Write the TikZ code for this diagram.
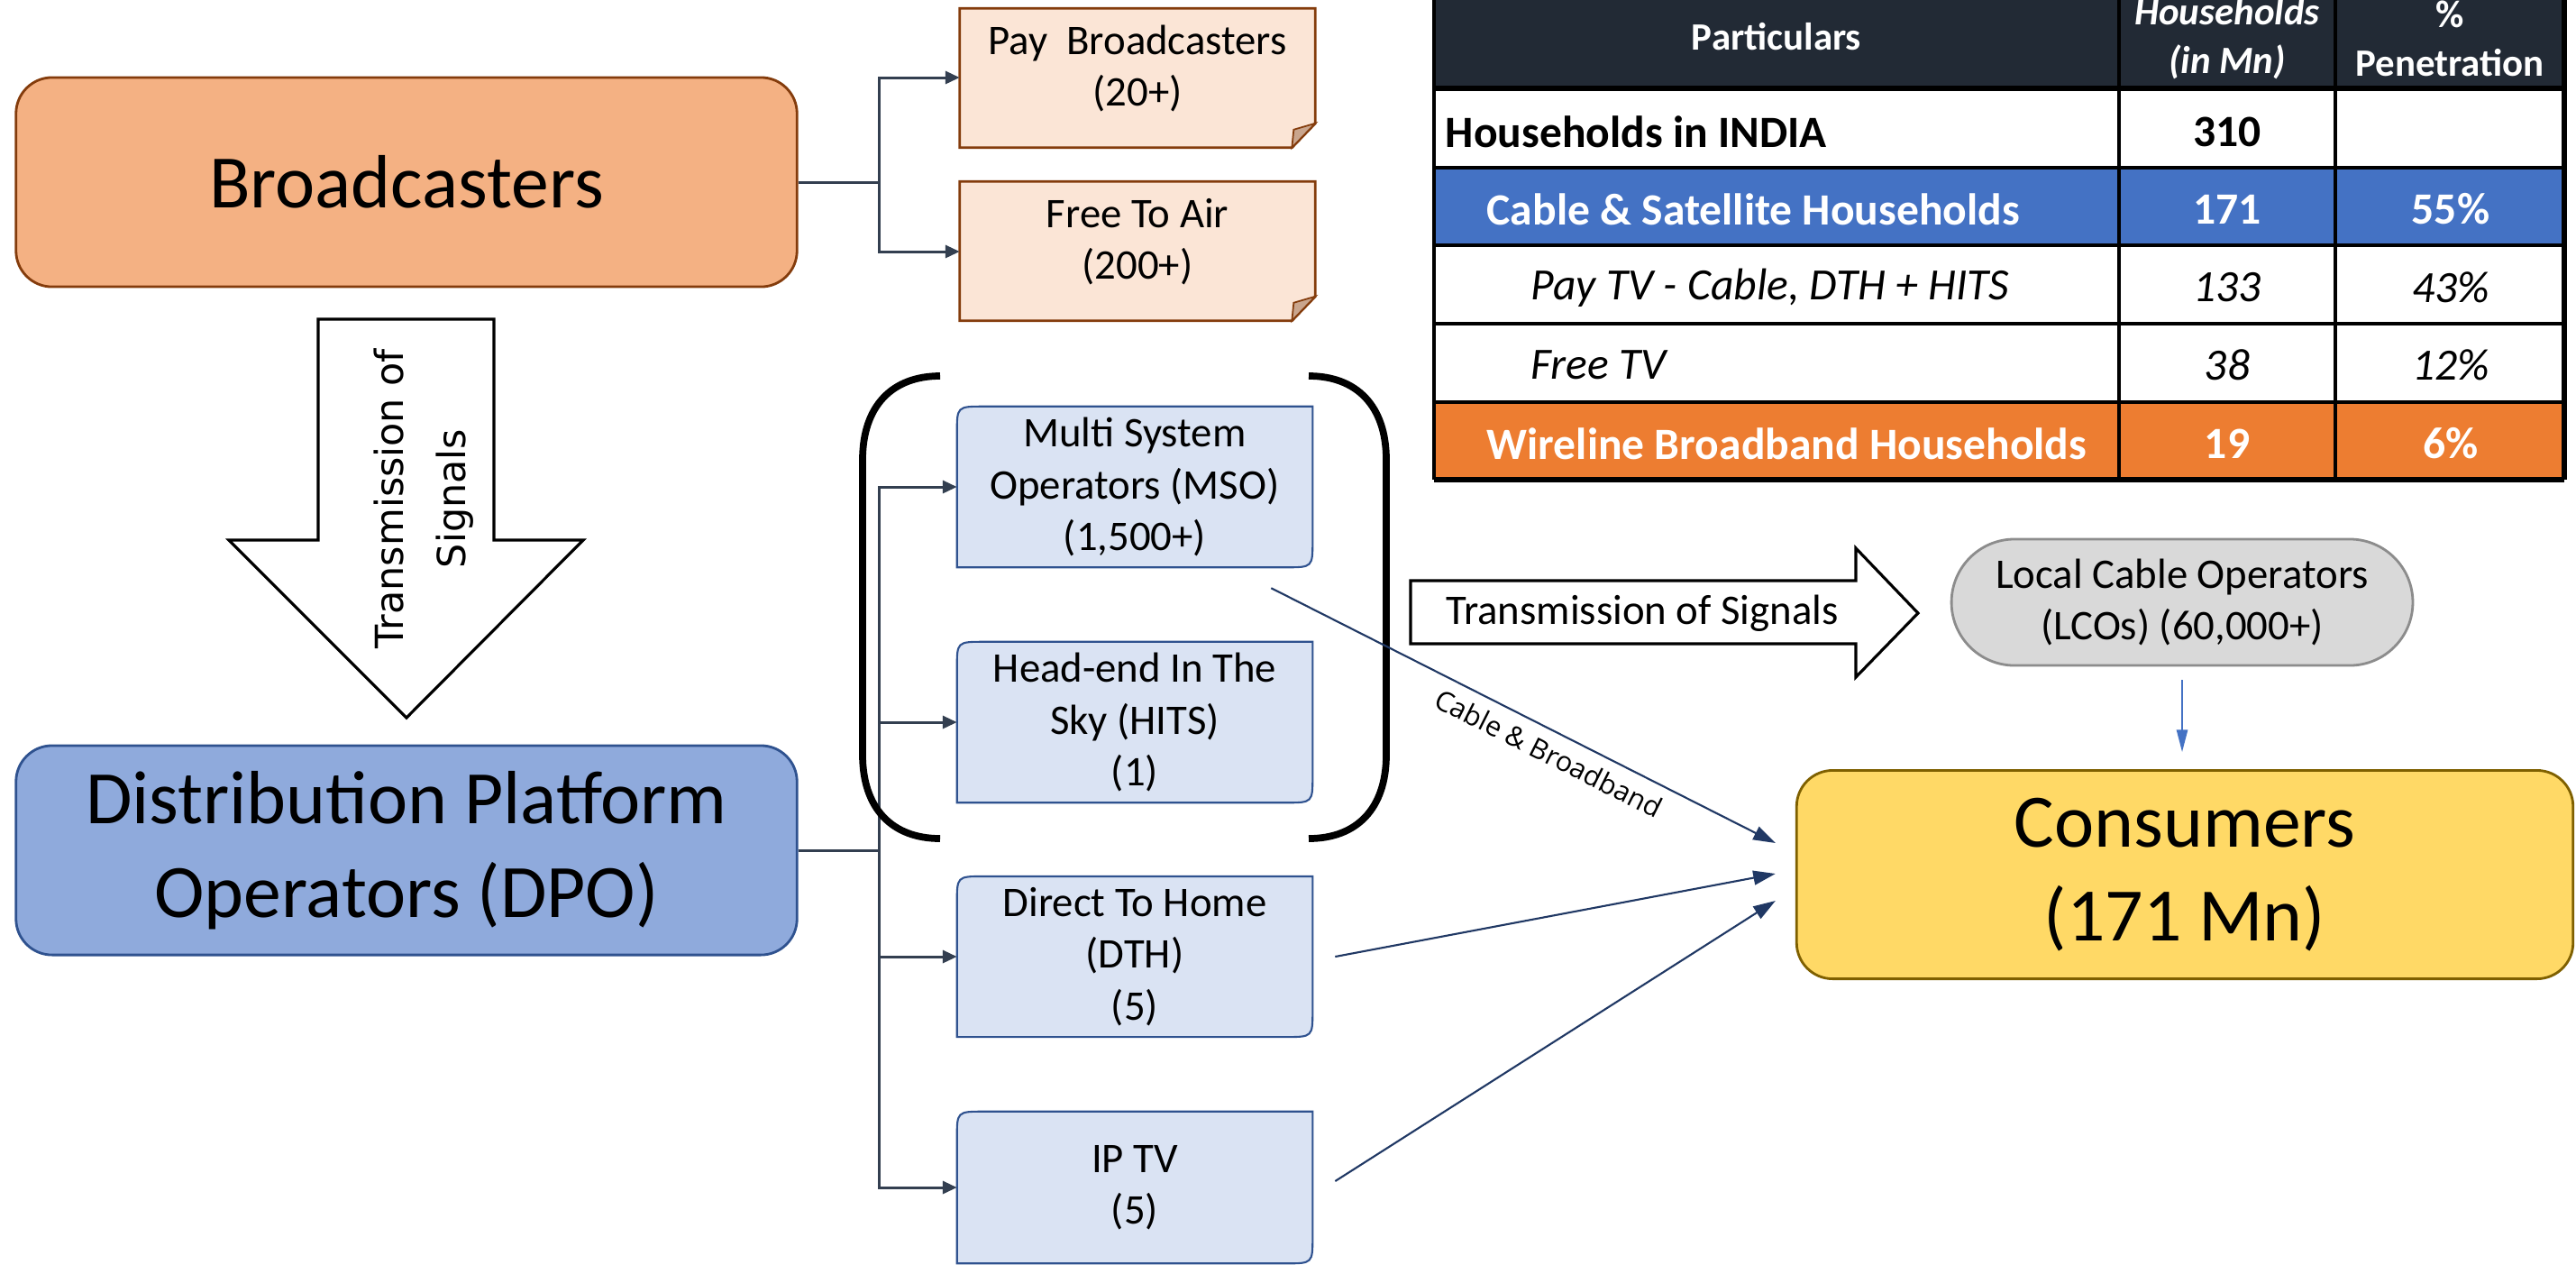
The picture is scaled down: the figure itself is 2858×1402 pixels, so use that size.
\documentclass[tikz,border=0pt]{standalone}
\usepackage{fontspec}
\setmainfont{Carlito}
\newfontfamily\vertfamily{DejaVu Sans}
\newfontfamily\slopefamily{Open Sans}
\usetikzlibrary{arrows.meta}
\usetikzlibrary{calc}
\usetikzlibrary{shapes.misc}
\usetikzlibrary{backgrounds}

\definecolor{bcfill}{HTML}{F4B183}
\definecolor{bcline}{HTML}{843C0C}
\definecolor{notefill}{HTML}{FBE5D6}
\definecolor{foldfill}{HTML}{C9A58D}
\definecolor{dpofill}{HTML}{8FAADC}
\definecolor{dpoline}{HTML}{2F528F}
\definecolor{opfill}{HTML}{DAE3F3}
\definecolor{lcofill}{HTML}{D9D9D9}
\definecolor{lcoline}{HTML}{8C8C8C}
\definecolor{consfill}{HTML}{FFD966}
\definecolor{consline}{HTML}{7F6000}
\definecolor{hdrfill}{HTML}{222A35}
\definecolor{csfill}{HTML}{4472C4}
\definecolor{bbfill}{HTML}{ED7D31}
\definecolor{linkcol}{HTML}{203864}
\definecolor{elbowcol}{HTML}{333F50}

\newcommand{\txtbig}{\fontsize{23.8}{29.5}\selectfont}
\newcommand{\txtbox}{\fontsize{13.3}{16.3}\selectfont}
\newcommand{\txtcell}{\fontsize{14.1}{17}\selectfont}
\newcommand{\txthdr}{\fontsize{12.2}{15.3}\selectfont\bfseries}
\newcommand{\txtvert}{\vertfamily\fontsize{12.2}{19.8}\selectfont}
\newcommand{\txtslope}{\slopefamily\fontsize{8.7}{10}\selectfont}

% sticky note with folded corner (the paper runs 21 below the text node)
\newcommand{\notebg}[1]{%
	\filldraw[fill=notefill, draw=bcline, line width=0.8pt] (#1.north west) -- (#1.north east)
		-- ($(#1.south east)+(0,-6)$) -- ($(#1.south east)+(-26,21)$) -- ($(#1.south west)+(0,21)$) -- cycle;
	\filldraw[fill=foldfill, draw=bcline, line width=0.5pt] ($(#1.south east)+(0,-6)$)
		-- ($(#1.south east)+(-24,1)$) -- ($(#1.south east)+(-26,21)$) -- cycle;}
% box with two rounded corners
\newcommand{\opbg}[1]{%
	\filldraw[fill=opfill, draw=dpoline, line width=0.6pt] (#1.south west)
		-- ($(#1.north west)+(0,30)$) .. controls (#1.north west) .. ($(#1.north west)+(30,0)$)
		-- (#1.north east) -- ($(#1.south east)+(0,-30)$) .. controls (#1.south east) .. ($(#1.south east)+(-30,0)$)
		-- cycle;}

\begin{document}
\begin{tikzpicture}[x=0.01cm, y=-0.01cm,
	bigbox/.style={rounded corners=0.4cm, line width=0.8pt, minimum width=8.66cm, minimum height=2.32cm, align=center, font=\txtbig},
	notebox/.style={minimum width=3.93cm, minimum height=1.32cm, align=center, font=\txtbox},
	opbox/.style={minimum width=3.93cm, minimum height=1.67cm, align=center, font=\txtbox},
	elbow/.style={elbowcol, line width=0.85pt, -{Triangle[length=4.5pt,width=4pt]}},
	feed/.style={linkcol, line width=0.6pt, -{Triangle[length=7pt,width=4.5pt]}},
	cell/.style={font=\txtcell\bfseries, inner sep=0pt},
	hdr/.style={font=\txthdr, text=white, align=center, inner sep=0pt}]
	\useasboundingbox (0,0) rectangle (2858,1402);

	% left column
	\node[bigbox, fill=bcfill, draw=bcline] (bcast) at (451,202) {Broadcasters};
	\node[bigbox, fill=dpofill, draw=dpoline] (dpo) at (451,943) {Distribution Platform\\Operators (DPO)};

	\draw[fill=white, line width=0.9pt] (353,354) -- (548,354) -- (548,599) -- (647,599) -- (451,796)
		-- (254,599) -- (353,599) -- cycle;
	\node[rotate=90, align=center, font=\txtvert] (sigdown) at (470,553) {Transmission of\\Signals};

	% broadcaster types
	\node[notebox] (pay) at (1262,76) {Pay\ \ Broadcasters\\(20+)};
	\node[notebox] (fta) at (1262,268) {Free To Air\\(200+)};

	% platform types
	\node[opbox] (mso) at (1259,540) {Multi System\\Operators (MSO)\\(1,500+)};
	\node[opbox] (hits) at (1259,801) {Head-end In The\\Sky (HITS)\\(1)};
	\node[opbox] (dth) at (1259,1061) {Direct To Home\\(DTH)\\(5)};
	\node[opbox] (iptv) at (1259,1317) {IP TV\\(5)};

	\begin{scope}[on background layer]
		\notebg{pay}
		\notebg{fta}
		\foreach \n in {mso,hits,dth,iptv} {\opbg{\n}}
	\end{scope}

	\draw[elbow] (bcast.east) -- ++(90,0) |- ($(pay.west)+(0,10)$);
	\draw[elbow] (bcast.east) -- ++(90,0) |- ($(fta.west)+(0,11)$);
	\foreach \n in {mso,hits,dth,iptv}
		\draw[elbow] (dpo.east) -- ++(90,0) |- (\n.west);

	% bracket round MSO and HITS
	\begin{scope}[line width=2.2pt]
		\draw (1043,417) .. controls (990,417) and (957,450) .. (957,510) -- (957,837)
			.. controls (957,897) and (990,930) .. (1043,930);
		\draw (1452,417) .. controls (1505,417) and (1538,450) .. (1538,510) -- (1538,837)
			.. controls (1538,897) and (1505,930) .. (1452,930);
	\end{scope}

	% right side
	\draw[fill=white, line width=0.9pt] (1565,644) -- (2059,644) -- (2059,608) -- (2128,680) -- (2059,751)
		-- (2059,714) -- (1565,714) -- cycle;
	\node[font=\txtbox] (sigright) at (1822,680) {Transmission of Signals};

	\node[rounded rectangle, fill=lcofill, draw=lcoline, line width=0.8pt, minimum width=5.35cm, minimum height=1.4cm,
		align=center, font=\txtbox] (lco) at (2421,668) {Local Cable Operators\\(LCOs) (60,000+)};
	\node[bigbox, fill=consfill, draw=consline, minimum width=8.61cm, minimum height=2.31cm] (cons) at (2424,970)
		{Consumers\\(171 Mn)};

	\draw[feed] ($(mso.south east)+(-46,23)$) -- ($(cons.west)+(-22,-35)$)
		node[pos=0.57, below, sloped, font=\txtslope, text=black] (cablelbl) {Cable \& Broadband};
	\draw[feed] ($(dth.east)+(25,0)$) -- ($(cons.west)+(-22,-1)$);
	\draw[feed] ($(iptv.east)+(25,-7)$) -- ($(cons.west)+(-22,29)$);
	\draw[csfill, line width=0.5pt, -{Triangle[length=7pt,width=3.5pt]}] ($(lco.south)+(0,15)$)
		-- ($(lco.south |- cons.north)+(0,-19)$);

	% table
	\fill[hdrfill] (1591,0) rectangle (2845,98);
	\fill[csfill] (1591,186) rectangle (2845,272);
	\fill[bbfill] (1591,446) rectangle (2845,532);
	\foreach \xx in {1591,2351,2591}
		\draw[line width=1.2pt] (\xx,0) -- (\xx,532);
	\draw[line width=1.8pt] (2845,0) -- (2845,532);
	\foreach \yy in {186,272,359,446}
		\draw[line width=1pt] (1591,\yy) -- (2845,\yy);
	\draw[line width=1.7pt] (1591,98) -- (2845,98);
	\draw[line width=1.6pt] (1591,532) -- (2845,532);

	\node[hdr] (hpart) at (1971,41) {Particulars};
	\node[hdr, font=\txthdr\itshape] (hhouse) at (2471,43) {Households\\(in Mn)};
	\node[hdr] (hpen) at (2718,43) {\%\\Penetration};

	\node[cell, anchor=west] (r1a) at (1603,146) {Households in INDIA};
	\node[cell] (r1b) at (2471,146) {310};
	\node[cell, anchor=west, text=white] (r2a) at (1649,232) {Cable \& Satellite Households};
	\node[cell, text=white] (r2b) at (2471,232) {171};
	\node[cell, text=white] (r2c) at (2719,232) {55\%};
	\node[cell, font=\txtcell\itshape, anchor=west] (r3a) at (1698,319) {Pay TV - Cable, DTH + HITS};
	\node[cell, font=\txtcell\itshape] (r3b) at (2471,319) {133};
	\node[cell, font=\txtcell\itshape] (r3c) at (2719,319) {43\%};
	\node[cell, font=\txtcell\itshape, anchor=west] (r4a) at (1698,405) {Free TV};
	\node[cell, font=\txtcell\itshape] (r4b) at (2471,405) {38};
	\node[cell, font=\txtcell\itshape] (r4c) at (2719,405) {12\%};
	\node[cell, anchor=west, text=white] (r5a) at (1649,492) {Wireline Broadband Households};
	\node[cell, text=white] (r5b) at (2471,492) {19};
	\node[cell, text=white] (r5c) at (2719,492) {6\%};
\end{tikzpicture}
\end{document}
